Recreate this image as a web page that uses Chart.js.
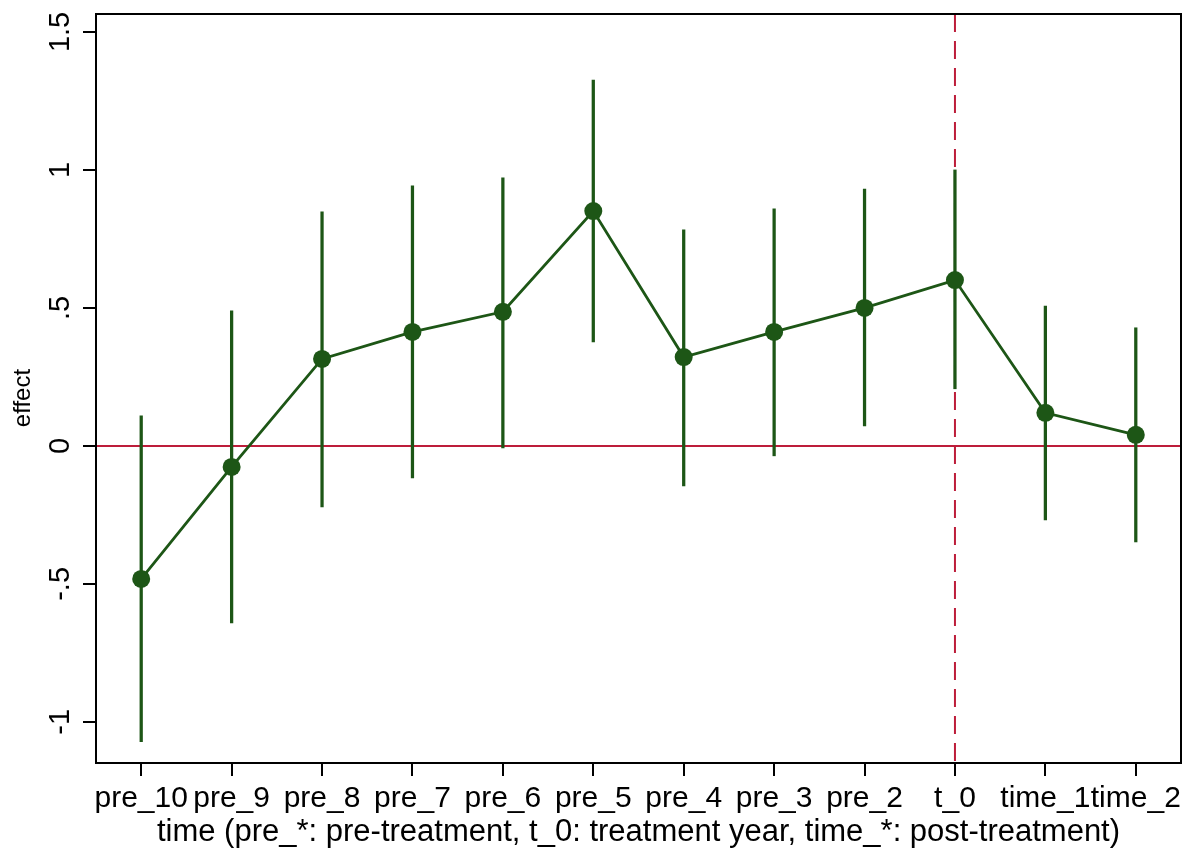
<!DOCTYPE html>
<html>
<head>
<meta charset="utf-8">
<script src="https://cdn.jsdelivr.net/npm/chart.js@4.4.1/dist/chart.umd.min.js"></script>
<style>
  html, body { margin: 0; padding: 0; background: #fff; }
  #wrap { width: 1190px; height: 851px; }
</style>
</head>
<body>
<div id="wrap"><canvas id="chart"></canvas></div>
<script>
// Event-study style plot: point estimates with confidence intervals per period.
const periods = ['pre_10', 'pre_9', 'pre_8', 'pre_7', 'pre_6', 'pre_5',
                 'pre_4', 'pre_3', 'pre_2', 't_0', 'time_1', 'time_2'];
const effect  = [-0.482, -0.076, 0.315, 0.413, 0.486, 0.851,
                 0.322, 0.413, 0.500, 0.601, 0.120, 0.040];
const ciLow   = [-1.072, -0.641, -0.221, -0.116, -0.007, 0.377,
                 -0.145, -0.036, 0.072, 0.207, -0.268, -0.348];
const ciHigh  = [0.109, 0.489, 0.848, 0.942, 0.971, 1.326,
                 0.783, 0.859, 0.931, 1.000, 0.507, 0.428];
const yTicks  = [-1, -0.5, 0, 0.5, 1, 1.5];
const yMin = -1.149, yMax = 1.565;
const treatPeriod = 't_0';

const GREEN = '#1d5616';
const RED   = '#bd1d3a';
const FONT  = "'Liberation Sans', Arial, Helvetica, sans-serif";

Chart.defaults.font.family = FONT;
Chart.defaults.color = '#000';

// Stata-style number labels: .5, -.5
function fmt(v) {
  return String(v).replace(/^0\./, '.').replace(/^-0\./, '-.');
}

// zero line + dashed treatment line, under the data
const refLines = {
  id: 'refLines',
  beforeDatasetsDraw(chart) {
    const { ctx, chartArea: a, scales } = chart;
    const y0 = scales.y.getPixelForValue(0);
    const xt = scales.x.getPixelForValue(periods.indexOf(treatPeriod));
    ctx.save();
    ctx.strokeStyle = RED;
    ctx.lineWidth = 2;
    ctx.beginPath();
    ctx.moveTo(a.left, y0); ctx.lineTo(a.right, y0);
    ctx.stroke();
    ctx.setLineDash([18, 9]);
    ctx.beginPath();
    ctx.moveTo(xt, a.top); ctx.lineTo(xt, a.bottom);
    ctx.stroke();
    ctx.restore();
  }
};

// box around plot + rotated y tick labels and y title
const frame = {
  id: 'frame',
  afterDraw(chart) {
    const { ctx, chartArea: a, scales } = chart;
    ctx.save();
    ctx.strokeStyle = '#000';
    ctx.lineWidth = 2;
    ctx.strokeRect(a.left, a.top, a.right - a.left, a.bottom - a.top);
    ctx.fillStyle = '#000';
    ctx.textAlign = 'center';
    ctx.textBaseline = 'middle';
    ctx.font = '29px ' + FONT;
    yTicks.forEach(v => {
      const y = scales.y.getPixelForValue(v);
      ctx.save();
      ctx.translate(61, y);
      ctx.rotate(-Math.PI / 2);
      ctx.fillText(fmt(v), 0, 0);
      ctx.restore();
    });
    ctx.font = '24px ' + FONT;
    ctx.translate(23, 398);
    ctx.rotate(-Math.PI / 2);
    ctx.fillText('effect', 0, 0);
    ctx.restore();
  }
};

new Chart(document.getElementById('chart'), {
  data: {
    labels: periods,
    datasets: [
      {
        type: 'line',
        data: effect,
        borderColor: GREEN,
        backgroundColor: GREEN,
        borderWidth: 2.8,
        pointRadius: 9,
        pointHoverRadius: 9,
        pointBorderWidth: 0,
        tension: 0,
        order: 0,
      },
      {
        type: 'bar',
        data: periods.map((_, i) => [ciLow[i], ciHigh[i]]),
        backgroundColor: GREEN,
        borderWidth: 0,
        barThickness: 2.6,
        order: 1,
      }
    ]
  },
  options: {
    responsive: true,
    maintainAspectRatio: false,
    animation: false,
    layout: { padding: { top: 14, right: 4, left: 0, bottom: 0 } },
    plugins: {
      legend: { display: false },
      tooltip: { enabled: false },
    },
    scales: {
      x: {
        type: 'category',
        offset: true,
        grid: { offset: false, drawOnChartArea: false, drawTicks: true, tickLength: 13, color: '#000', lineWidth: 2 },
        border: { display: true, color: '#000', width: 2 },
        ticks: { font: { size: 30 }, padding: 5, maxRotation: 0, autoSkip: false, color: '#000' },
        title: {
          display: true,
          text: 'time (pre_*: pre-treatment, t_0: treatment year, time_*: post-treatment)',
          font: { size: 31 },
          color: '#000',
          padding: { top: 0, bottom: 0 },
        },
        afterFit(scale) {
          scale.height = 88;
          // labels may overhang the edges, as in the original
          scale.paddingLeft = 0;
          scale.paddingRight = 0;
        },
      },
      y: {
        type: 'linear',
        min: yMin,
        max: yMax,
        afterBuildTicks(scale) { scale.ticks = yTicks.map(v => ({ value: v })); },
        grid: { drawOnChartArea: false, drawTicks: true, tickLength: 13, color: '#000', lineWidth: 2 },
        border: { display: true, color: '#000', width: 2 },
        ticks: { display: false },
        title: { display: false },
        afterFit(scale) { scale.width = 96; },
      }
    }
  },
  plugins: [refLines, frame]
});
</script>
</body>
</html>
